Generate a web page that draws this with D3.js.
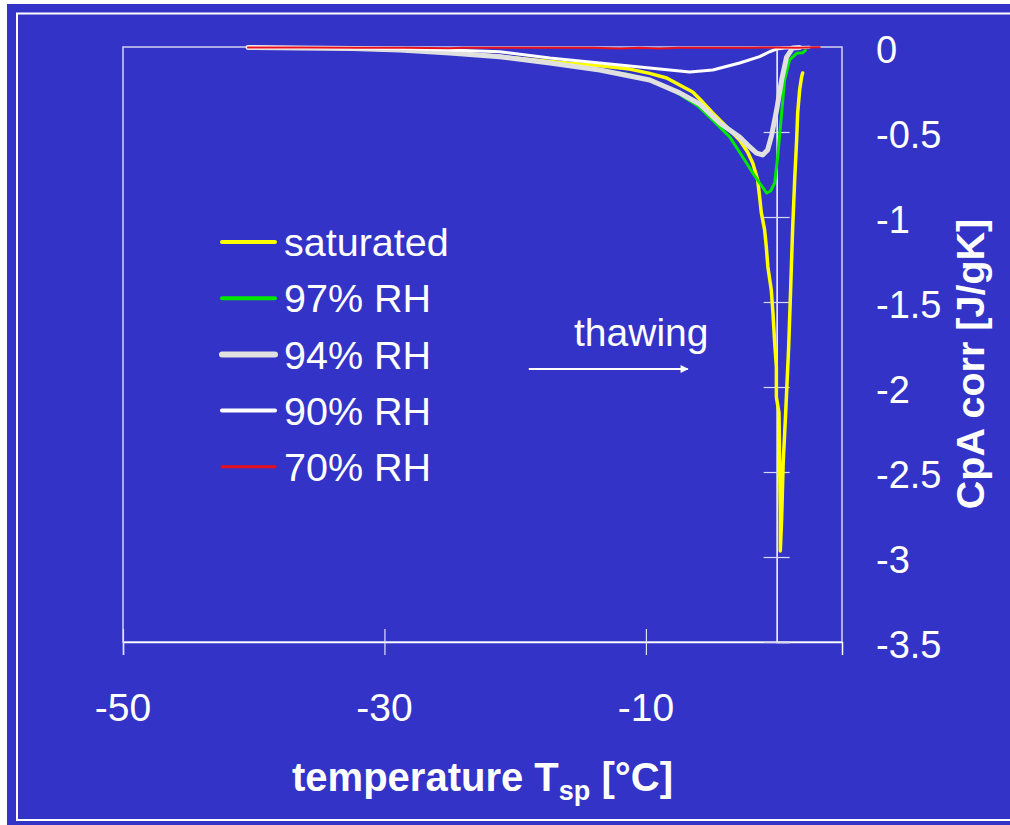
<!DOCTYPE html>
<html>
<head>
<meta charset="utf-8">
<script src="https://cdn.jsdelivr.net/npm/d3@7"></script>
<style>
  body { margin: 0; background: #ffffff; }
  svg { display: block; font-family: "Liberation Sans", Arial, sans-serif; }
</style>
</head>
<body>
<svg id="chart" width="1010" height="825"></svg>
<script>
// Series names (legend order)
const seriesNames = ["saturated", "97% RH", "94% RH", "90% RH", "70% RH"];

// saturated
const satT = [-40.44, -36.47, -32.65, -28.82, -25.0, -21.18, -17.35, -13.53, -11.24, -9.71, -8.41, -7.42, -6.42, -5.66, -4.89, -3.82, -2.83, -2.22, -1.83, -1.45, -1.30, -1.17, -0.92, -0.79, -0.67, -0.41, -0.28, -0.15, -0.02, -0.02, 0.18, 0.23, 0.28, 0.28, 0.38, 0.50, 0.69, 0.92, 1.07, 1.22, 1.38, 1.53, 1.61, 1.76, 1.91, 1.99];
const satCp = [-0.003, -0.006, -0.009, -0.018, -0.032, -0.055, -0.085, -0.11, -0.13, -0.155, -0.182, -0.224, -0.265, -0.324, -0.388, -0.471, -0.547, -0.618, -0.682, -0.782, -0.882, -0.976, -1.076, -1.176, -1.294, -1.429, -1.565, -1.741, -1.882, -2.059, -2.153, -2.447, -2.741, -2.965, -2.782, -2.447, -2.153, -1.765, -1.429, -1.076, -0.782, -0.547, -0.388, -0.253, -0.176, -0.153];

// 97% RH
const rh97T = [-40.44, -36.47, -32.65, -28.82, -25.0, -21.18, -17.35, -13.53, -11.47, -9.71, -7.8, -6.04, -4.89, -3.59, -2.29, -1.83, -1.30, -0.76, -0.46, -0.15, 0.08, 0.38, 0.61, 0.99, 1.53, 1.99, 2.2];
const rh97Cp = [-0.003, -0.006, -0.009, -0.018, -0.035, -0.057, -0.094, -0.135, -0.16, -0.194, -0.26, -0.345, -0.43, -0.529, -0.684, -0.741, -0.8, -0.859, -0.847, -0.8, -0.645, -0.39, -0.194, -0.076, -0.037, -0.034, -0.02];

// 94% RH
const rh94T = [-40.44, -36.47, -32.5, -28.82, -25.0, -21.18, -17.35, -13.53, -9.71, -7.42, -5.89, -4.36, -2.83, -2.06, -1.53, -1.07, -0.69, -0.38, 0.0, 0.38, 0.76, 1.22, 1.76];
const rh94Cp = [-0.003, -0.006, -0.009, -0.018, -0.035, -0.057, -0.094, -0.135, -0.194, -0.27, -0.335, -0.447, -0.529, -0.588, -0.624, -0.635, -0.606, -0.518, -0.371, -0.194, -0.059, -0.006, -0.003];

// 90% RH
const rh90T = [-40.44, -36.47, -32.65, -28.82, -25.0, -21.18, -17.35, -13.53, -9.71, -6.65, -4.89, -2.83, -1.30, -0.54, 0.0, 0.61, 1.76, 2.5];
const rh90Cp = [-0.001, -0.003, -0.006, -0.008, -0.018, -0.028, -0.065, -0.094, -0.124, -0.147, -0.135, -0.094, -0.057, -0.028, -0.012, -0.006, -0.003, -0.002];

// 70% RH
const rh70T = [-40.44, -36.0, -32.0, -28.5, -25.0, -24.0, -22.0, -18.0, -14.0, -12.0, -10.5, -9.0, -7.5, -5.0, -2.0, 0.0, 1.5, 3.29];
const rh70Cp = [-0.003, -0.003, -0.004, -0.004, -0.008, -0.004, -0.005, -0.005, -0.004, -0.009, -0.004, -0.009, -0.004, -0.005, -0.004, -0.003, -0.004, -0.002];

// Axis ticks
const xTickValues = [-50, -30, -10];
const yTickValues = [0, -0.5, -1, -1.5, -2, -2.5, -3, -3.5];

// Styles per series
const seriesColors = ["#ffff00", "#00e600", "#e0e0e0", "#ffffff", "#e8101c"];
const seriesWidths = [3.5, 3, 5, 3, 2];
const legendWidths = [4, 4, 6, 4, 3];

const series = [
  [satT, satCp],
  [rh97T, rh97Cp],
  [rh94T, rh94Cp],
  [rh90T, rh90Cp],
  [rh70T, rh70Cp]
].map((s, i) => ({
  name: seriesNames[i],
  values: s[0].map((t, j) => ({ t: t, cp: s[1][j] }))
}));

const svg = d3.select("#chart");
const blue = "#3333c8";
const font = '"Liberation Sans", Arial, sans-serif';

// Background and slide frame
svg.append("rect").attr("x", 7).attr("y", 4).attr("width", 1003).attr("height", 821).attr("fill", blue);
svg.append("path")
  .attr("d", "M1010,13.5 H17 V820 H1010")
  .attr("fill", "none")
  .attr("stroke", "#ffffff")
  .attr("stroke-width", 2);

// Scales
const plotLeft = 123, plotRight = 842, plotTop = 47, plotBottom = 642;
const x = d3.scaleLinear().domain([-50, 5]).range([plotLeft, plotRight]);
const y = d3.scaleLinear().domain([-3.5, 0]).range([plotBottom, plotTop]);

// Plot area border
svg.append("rect")
  .attr("x", plotLeft).attr("y", plotTop)
  .attr("width", plotRight - plotLeft).attr("height", plotBottom - plotTop)
  .attr("fill", "none")
  .attr("stroke", "#d4d4f0")
  .attr("stroke-width", 1.5);

// X axis at bottom with crossing ticks
const xAxis = svg.append("g").attr("transform", `translate(0,${plotBottom})`)
  .call(d3.axisBottom(x).tickValues(xTickValues).tickSize(13).tickFormat(""));
xAxis.select(".domain").attr("stroke", "#ffffff").attr("stroke-width", 1.5);
xAxis.selectAll(".tick line").attr("stroke", "#e0e0f4").attr("y1", -13).attr("stroke-width", 1.2);

svg.append("g").selectAll("text").data(xTickValues).join("text")
  .attr("x", d => x(d))
  .attr("y", 721)
  .attr("text-anchor", "middle")
  .attr("fill", "#ffffff")
  .style("font-family", font)
  .style("font-size", "39px")
  .text(d => d);

// Y axis crossing at x = 0
const yAxis = svg.append("g").attr("transform", `translate(${x(0)},0)`)
  .call(d3.axisRight(y).tickValues(yTickValues).tickSize(13).tickFormat(""));
yAxis.select(".domain").attr("stroke", "#ffffff").attr("stroke-width", 1.5);
yAxis.selectAll(".tick line").attr("stroke", "#d8d8f2").attr("x1", -13).attr("stroke-width", 1.2);

svg.append("g").selectAll("text").data(yTickValues).join("text")
  .attr("x", 876)
  .attr("y", d => y(d) + 16)
  .attr("fill", "#ffffff")
  .style("font-family", font)
  .style("font-size", "38px")
  .text(d => d);

// Axis titles
const xTitle = svg.append("text")
  .attr("x", (plotLeft + plotRight) / 2)
  .attr("y", 791)
  .attr("text-anchor", "middle")
  .attr("fill", "#ffffff")
  .style("font-family", font)
  .style("font-size", "40px")
  .style("font-weight", "bold");
xTitle.append("tspan").text("temperature T");
xTitle.append("tspan").attr("dy", 9).style("font-size", "27px").text("sp");
xTitle.append("tspan").attr("dy", -9).text(" [°C]");

svg.append("text")
  .attr("transform", "translate(984,364) rotate(-90)")
  .attr("text-anchor", "middle")
  .attr("fill", "#ffffff")
  .style("font-family", font)
  .style("font-size", "39.5px")
  .style("font-weight", "bold")
  .text("CpA corr [J/gK]");

// Lines
const line = d3.line()
  .x(d => x(d.t))
  .y(d => y(d.cp));

svg.append("g").selectAll("path").data(series).join("path")
  .attr("d", d => line(d.values))
  .attr("fill", "none")
  .attr("stroke", (d, i) => seriesColors[i])
  .attr("stroke-width", (d, i) => seriesWidths[i])
  .attr("stroke-linejoin", "round")
  .attr("stroke-linecap", "round");

// Legend
const legend = svg.append("g");
const legendRow = legend.selectAll("g").data(seriesNames).join("g")
  .attr("transform", (d, i) => `translate(222,${242 + i * 56.2})`);
legendRow.append("line")
  .attr("x1", 0).attr("x2", 53)
  .attr("stroke", (d, i) => seriesColors[i])
  .attr("stroke-width", (d, i) => legendWidths[i])
  .attr("stroke-linecap", "round");
legendRow.append("text")
  .attr("x", 62)
  .attr("dy", "0.36em")
  .attr("fill", "#ffffff")
  .style("font-family", font)
  .style("font-size", "39.5px")
  .text(d => d);

// "thawing" annotation with arrow
svg.append("defs").append("marker")
  .attr("id", "arrow")
  .attr("viewBox", "0 0 10 10")
  .attr("refX", 9).attr("refY", 5)
  .attr("markerWidth", 5).attr("markerHeight", 4)
  .attr("markerUnits", "strokeWidth")
  .attr("orient", "auto")
  .append("path")
  .attr("d", "M0,0 L10,5 L0,10 z")
  .attr("fill", "#ffffff");

svg.append("line")
  .attr("x1", x(-18.96)).attr("x2", x(-6.8))
  .attr("y1", y(-1.894)).attr("y2", y(-1.894))
  .attr("stroke", "#ffffff")
  .attr("stroke-width", 2)
  .attr("marker-end", "url(#arrow)");

svg.append("text")
  .attr("x", x(-15.5))
  .attr("y", y(-1.759))
  .attr("fill", "#ffffff")
  .style("font-family", font)
  .style("font-size", "39px")
  .text("thawing");
</script>
</body>
</html>
